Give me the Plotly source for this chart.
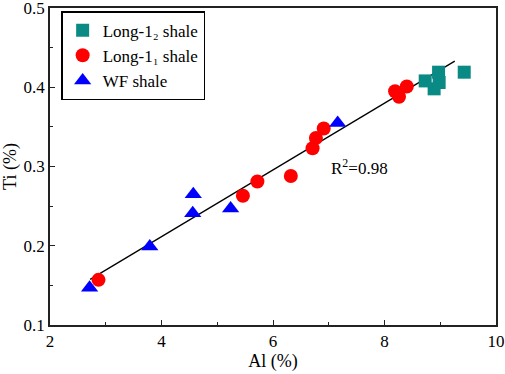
import plotly.graph_objects as go

# Long-1_2 shale
l12_al = [8.73, 8.97, 8.89, 8.98, 9.43]
l12_ti = [0.408, 0.419, 0.398, 0.406, 0.419]
# Long-1_1 shale
l11_al = [2.87, 5.46, 5.72, 6.32, 6.71, 6.77, 6.91, 8.19, 8.26, 8.40]
l11_ti = [0.157, 0.263, 0.281, 0.288, 0.323, 0.336, 0.348, 0.395, 0.388, 0.401]
# WF shale
wf_al = [2.71, 3.79, 4.57, 4.56, 5.24, 7.16]
wf_ti = [0.147, 0.199, 0.265, 0.241, 0.247, 0.355]
# fit line endpoints
fit_al = [2.72, 9.26]
fit_ti = [0.1575, 0.433]

FONT = "Liberation Serif"

fig = go.Figure()
fig.add_trace(go.Scatter(x=fit_al, y=fit_ti, mode="lines", line=dict(color="black", width=1.3),
                         showlegend=False, hoverinfo="skip"))
fig.add_trace(go.Scatter(x=l12_al, y=l12_ti, mode="markers", name="Long-1\u2082 shale",
                         marker=dict(symbol="square", size=13, color="#0a8a84")))
fig.add_trace(go.Scatter(x=l11_al, y=l11_ti, mode="markers", name="Long-1\u2081 shale",
                         marker=dict(symbol="circle", size=14, color="#ff0000")))
fig.add_trace(go.Scatter(x=wf_al, y=wf_ti, mode="markers", name="WF shale",
                         marker=dict(symbol="triangle-up", size=15, color="#0000ff")))

fig.add_annotation(x=7.56, y=0.299, text="R<sup>2</sup>=0.98", showarrow=False,
                   font=dict(family=FONT, size=17, color="black"))

axis_common = dict(showline=True, linecolor="#222", linewidth=1.5, mirror=True,
                   ticks="inside", ticklen=5, tickwidth=1.2, tickcolor="#222",
                   showgrid=False, zeroline=False, automargin=False,
                   ticklabeloverflow="allow",
                   tickfont=dict(family=FONT, size=17, color="black"))
fig.update_xaxes(range=[2, 10], dtick=2, title=dict(text="Al (%)", font=dict(family=FONT, size=18, color="black"), standoff=2),
                 minor=dict(ticks="inside", ticklen=3, dtick=1, tickcolor="#222"), **axis_common)
fig.update_yaxes(range=[0.1, 0.5], dtick=0.1, tickformat=".1f",
                 title=dict(text="Ti (%)", font=dict(family=FONT, size=18, color="black"), standoff=2),
                 minor=dict(ticks="inside", ticklen=3, dtick=0.05, tickcolor="#222"), **axis_common)

fig.update_layout(width=505, height=374, margin=dict(l=50, r=9, t=8, b=49),
                  plot_bgcolor="white", paper_bgcolor="white",
                  font=dict(family=FONT, color="black"),
                  legend=dict(x=0.025, y=0.99, xanchor="left", yanchor="top",
                              bordercolor="black", borderwidth=1.5, bgcolor="white",
                              font=dict(family=FONT, size=17, color="black"),
                              itemwidth=30, tracegroupgap=0))
fig.write_html("out.html", config={"displayModeBar": False},
               post_script="document.body.style.margin='0px';")
